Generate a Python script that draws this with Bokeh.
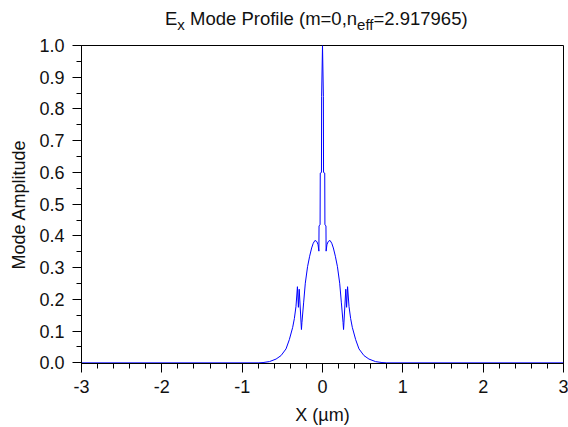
from bokeh.plotting import figure
from bokeh.layouts import column
from bokeh.models import FixedTicker, PrintfTickFormatter, Range1d, Div
from bokeh.embed import file_html
from bokeh.resources import INLINE

# ---- data ----
x_um = [-3.000, -0.800, -0.740, -0.660, -0.578, -0.516, -0.454, -0.413, -0.371,
        -0.350, -0.330, -0.312, -0.300, -0.290, -0.262, -0.256, -0.235, -0.214,
        -0.186, -0.160, -0.135, -0.115, -0.093, -0.070, -0.055, -0.045, -0.043,
        -0.030, -0.028, -0.013, -0.011, 0.000,
        0.011, 0.013, 0.028, 0.030, 0.043, 0.045, 0.055, 0.070, 0.093, 0.115,
        0.135, 0.160, 0.186, 0.214, 0.235, 0.256, 0.262, 0.290, 0.300, 0.312,
        0.330, 0.350, 0.371, 0.413, 0.454, 0.516, 0.578, 0.660, 0.740, 0.800,
        3.000]
amplitude = [0.000, 0.000, 0.001, 0.004, 0.012, 0.023, 0.044, 0.073, 0.112,
             0.140, 0.178, 0.240, 0.175, 0.232, 0.105, 0.127, 0.189, 0.251,
             0.303, 0.336, 0.362, 0.377, 0.386, 0.382, 0.372, 0.352, 0.432,
             0.435, 0.598, 0.600, 0.840, 1.000,
             0.840, 0.600, 0.598, 0.435, 0.432, 0.352, 0.372, 0.382, 0.386, 0.377,
             0.362, 0.336, 0.303, 0.251, 0.189, 0.127, 0.105, 0.232, 0.175, 0.240,
             0.178, 0.140, 0.112, 0.073, 0.044, 0.023, 0.012, 0.004, 0.001, 0.000,
             0.000]

x_major_ticks = [-3, -2, -1, 0, 1, 2, 3]
x_minor_ticks = [round(-3 + 0.2 * i, 1) for i in range(31)]
y_major_ticks = [0.0, 0.1, 0.2, 0.3, 0.4, 0.5, 0.6, 0.7, 0.8, 0.9, 1.0]
y_minor_ticks = [round(0.05 * i, 2) for i in range(21)]

title_main = "E"
title_sub1 = "x"
title_mid = " Mode Profile (m=0,n"
title_sub2 = "eff"
title_end = "=2.917965)"
x_label = "X (\u00b5m)"
y_label = "Mode Amplitude"

FONT = "Liberation Sans"
TXT = "#111111"
TITLE_H = 34

sub_style = "font-size:15px;vertical-align:-4.5px;line-height:0;"
html = (
    f'<div style="position:relative;width:568px;height:{TITLE_H}px;margin:0;padding:0;'
    f"font-family:'{FONT}';color:{TXT};\">"
    f'<span style="position:absolute;left:165px;top:10px;font-size:18.5px;'
    f'line-height:1;white-space:pre;">'
    f'{title_main}<sub style="{sub_style}">{title_sub1}</sub>{title_mid}'
    f'<sub style="{sub_style}">{title_sub2}</sub>{title_end}</span></div>'
)
title_div = Div(text=html, width=568, height=TITLE_H, margin=0)

# ---- main plot ----
p = figure(width=568, height=427 - TITLE_H, output_backend="svg", toolbar_location=None,
           x_range=Range1d(-3, 3), y_range=Range1d(-0.002, 1),
           min_border_left=81, min_border_right=5, min_border_top=45 - TITLE_H,
           min_border_bottom=60)
p.background_fill_color = "white"
p.border_fill_color = "white"
p.outline_line_color = "black"
p.outline_line_width = 1
p.outline_line_alpha = 1.0
p.xgrid.visible = False
p.ygrid.visible = False

p.line(x_um, amplitude, line_color="#0000ff", line_width=1)

p.xaxis.ticker = FixedTicker(ticks=x_major_ticks, minor_ticks=x_minor_ticks)
p.yaxis.ticker = FixedTicker(ticks=y_major_ticks, minor_ticks=y_minor_ticks)
p.yaxis.formatter = PrintfTickFormatter(format="%.1f")
p.xaxis.formatter = PrintfTickFormatter(format="%d")

for ax in (p.xaxis[0], p.yaxis[0]):
    ax.axis_line_color = "black"
    ax.major_tick_line_color = "black"
    ax.minor_tick_line_color = "black"
    ax.major_tick_out = 9
    ax.major_tick_in = 0
    ax.minor_tick_out = 5
    ax.minor_tick_in = 0
    ax.major_label_text_font = FONT
    ax.major_label_text_font_size = "18px"
    ax.major_label_text_color = TXT
    ax.axis_label_text_font = FONT
    ax.axis_label_text_font_size = "18px"
    ax.axis_label_text_font_style = "normal"
    ax.axis_label_text_color = TXT

p.xaxis.axis_label = x_label
p.yaxis.axis_label = y_label
p.xaxis.major_label_standoff = 7
p.yaxis.major_label_standoff = 8
p.xaxis.axis_label_standoff = 9
p.yaxis.axis_label_standoff = 7

layout = column(title_div, p, spacing=0)
open("out.html", "w").write(file_html(layout, INLINE))
